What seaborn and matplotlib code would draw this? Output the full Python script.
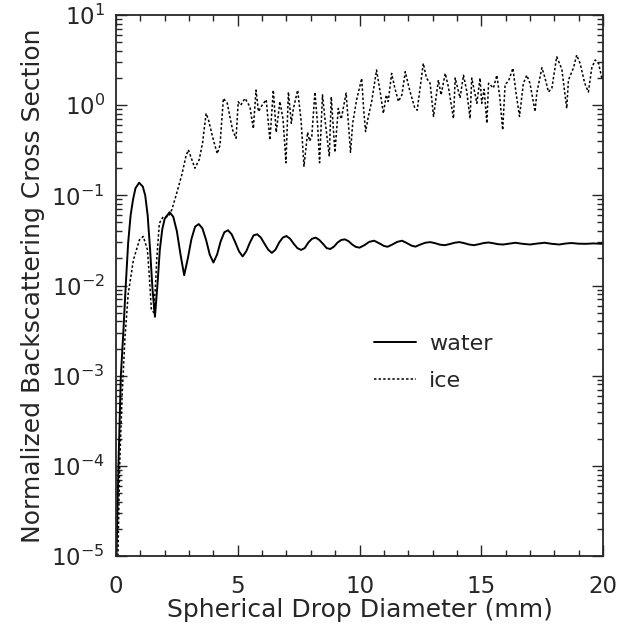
import matplotlib
matplotlib.use('Agg')
import matplotlib.pyplot as plt
import numpy as np
import pandas as pd
import seaborn as sns
from matplotlib.ticker import LogLocator, MultipleLocator

# water: diameter (mm) and normalized backscattering cross section
water_d = [0.02, 0.1, 0.2, 0.3, 0.4, 0.5, 0.6, 0.7, 0.8, 0.95, 1.1, 1.2, 1.3, 1.4, 1.5, 1.6,
           1.7, 1.8, 1.9, 2.0, 2.2, 2.35, 2.5, 2.65, 2.8, 2.95, 3.1, 3.25, 3.4, 3.55, 3.7,
           3.85, 4.0, 4.15, 4.3, 4.45, 4.6, 4.75, 4.9, 5.05, 5.2, 5.35, 5.5, 5.65, 5.8,
           5.95, 6.1, 6.25, 6.4, 6.55, 6.7, 6.85, 7.0, 7.15, 7.3, 7.45, 7.6, 7.75, 7.9,
           8.05, 8.2, 8.35, 8.5, 8.65, 8.8, 8.95, 9.1, 9.25, 9.4, 9.55, 9.7, 9.85, 10.0,
           10.2, 10.4, 10.6, 10.8, 11.0, 11.15, 11.35, 11.55, 11.75, 11.95, 12.15, 12.3,
           12.5, 12.7, 12.9, 13.1, 13.3, 13.5, 13.7, 13.9, 14.1, 14.3, 14.5, 14.7, 14.9,
           15.1, 15.3, 15.5, 15.7, 15.9, 16.1, 16.4, 16.7, 17.0, 17.3, 17.6, 17.9, 18.2,
           18.45, 18.7, 19.0, 19.3, 19.6, 20.0]
water_s = [1e-5, 1e-4, 1e-3, 3e-3, 0.01, 0.03, 0.06, 0.09, 0.12, 0.138, 0.125, 0.1, 0.06,
           0.025, 0.009, 0.0045, 0.01, 0.025, 0.042, 0.055, 0.065, 0.058, 0.04, 0.022, 0.013,
           0.02, 0.033, 0.045, 0.048, 0.043, 0.032, 0.022, 0.018, 0.022, 0.031, 0.039, 0.041,
           0.037, 0.03, 0.024, 0.021, 0.024, 0.03, 0.036, 0.037, 0.034, 0.029, 0.025, 0.023,
           0.025, 0.03, 0.034, 0.0354, 0.033, 0.029, 0.026, 0.0248, 0.026, 0.03, 0.033, 0.034,
           0.032, 0.029, 0.026, 0.0254, 0.027, 0.03, 0.032, 0.0325, 0.031, 0.0285, 0.0268,
           0.0263, 0.028, 0.0305, 0.0314, 0.0295, 0.0275, 0.0269, 0.0285, 0.0305, 0.0314,
           0.0295, 0.0276, 0.027, 0.0285, 0.0298, 0.0303, 0.0295, 0.0284, 0.028, 0.0288,
           0.0298, 0.0303, 0.0295, 0.0285, 0.028, 0.0287, 0.0296, 0.030, 0.0294, 0.0287,
           0.0285, 0.029, 0.0298, 0.029, 0.0285, 0.0292, 0.0298, 0.029, 0.0285, 0.0292,
           0.0296, 0.0291, 0.029, 0.0293, 0.029]

# ice
ice_d = [0.08, 0.15, 0.25, 0.37, 0.5, 0.71, 0.96, 1.12, 1.29, 1.37, 1.45, 1.55, 1.62, 1.67,
         1.78, 1.94, 2.15, 2.29, 2.49, 2.7, 2.87, 2.97, 3.11, 3.24, 3.42, 3.56, 3.7, 3.79,
         4.0, 4.16, 4.27, 4.41, 4.57, 4.68, 4.79, 4.93, 5.02, 5.12, 5.3, 5.5, 5.64, 5.75,
         5.85, 6.0, 6.17, 6.32, 6.46, 6.58, 6.73, 6.86, 6.98, 7.08, 7.2, 7.28, 7.46, 7.6,
         7.72, 7.87, 7.95, 8.04, 8.17, 8.28, 8.36, 8.48, 8.6, 8.76, 8.84, 8.99, 9.13, 9.25,
         9.45, 9.55, 9.63, 9.72, 9.88, 10.09, 10.17, 10.25, 10.36, 10.5, 10.7, 10.85, 10.98,
         11.1, 11.18, 11.32, 11.45, 11.6, 11.74, 11.88, 12.05, 12.26, 12.37, 12.62, 12.75,
         12.9, 13.04, 13.24, 13.35, 13.52, 13.65, 13.86, 13.93, 14.13, 14.27, 14.4, 14.54,
         14.61, 14.82, 14.95, 15.02, 15.12, 15.23, 15.3, 15.5, 15.64, 15.76, 15.88, 15.98,
         16.12, 16.3, 16.43, 16.57, 16.73, 16.87, 17.0, 17.21, 17.28, 17.49, 17.62, 17.76,
         17.9, 18.1, 18.31, 18.51, 18.58, 18.79, 18.92, 19.06, 19.25, 19.4, 19.54, 19.68,
         19.82, 19.95]
ice_s = [1e-5, 1e-4, 6e-4, 0.0027, 0.008, 0.019, 0.032, 0.035, 0.025, 0.0126, 0.0055, 0.005,
         0.01, 0.019, 0.049, 0.058, 0.058, 0.069, 0.105, 0.168, 0.27, 0.32, 0.25, 0.2, 0.25,
         0.39, 0.81, 0.7, 0.41, 0.29, 0.36, 1.19, 1.05, 0.74, 0.53, 0.43, 1.09, 1.0, 1.19,
         0.96, 0.55, 1.47, 0.85, 1.0, 1.15, 0.41, 1.47, 0.5, 1.1, 0.7, 0.23, 1.4, 0.63, 0.9,
         1.47, 0.68, 0.21, 0.5, 0.4, 0.45, 1.4, 0.6, 0.23, 1.3, 0.63, 0.27, 1.24, 0.3, 0.92,
         0.7, 1.36, 0.6, 0.3, 0.63, 1.14, 1.98, 0.9, 0.51, 0.74, 1.1, 2.45, 1.4, 0.81, 1.3,
         1.1, 2.25, 1.55, 1.1, 1.3, 2.35, 1.5, 0.95, 0.88, 2.91, 2.0, 1.75, 0.75, 1.9, 1.3,
         2.25, 1.6, 0.71, 2.0, 1.2, 2.15, 1.45, 0.71, 2.0, 1.05, 2.0, 1.05, 1.5, 0.63, 1.75,
         1.55, 2.15, 1.24, 0.53, 1.7, 1.85, 2.57, 1.36, 0.75, 1.75, 2.15, 1.75, 0.85, 1.36,
         2.6, 2.0, 1.4, 1.55, 3.45, 2.5, 0.92, 1.9, 2.6, 3.6, 2.9, 1.75, 1.4, 2.6, 3.17,
         2.9, 2.0]

y_decades = [1e-5, 1e-4, 1e-3, 1e-2, 1e-1, 1e0, 1e1]

water = pd.DataFrame({'d': water_d, 's': water_s})
ice = pd.DataFrame({'d': ice_d, 's': ice_s})

sns.set_style('ticks')
plt.rcParams['font.family'] = ['DejaVu Sans']

fig = plt.figure(figsize=(6.25, 6.28), dpi=100)
ax = fig.add_axes([0.1856, 0.1146, 0.7792, 0.8615])

sns.lineplot(data=water, x='d', y='s', color='black', linewidth=1.4, label='water', ax=ax)
sns.lineplot(data=ice, x='d', y='s', color='black', linewidth=1.1, label='ice', ax=ax)
ax.lines[1].set_dashes([1.6, 1.4])

ax.set_yscale('log')
ax.set_xlim(0, 20)
ax.set_ylim(1e-5, 10)
ax.xaxis.set_major_locator(MultipleLocator(5))
ax.xaxis.set_minor_locator(MultipleLocator(1))
ax.set_yticks(y_decades)
ax.yaxis.set_minor_locator(LogLocator(base=10, subs=np.arange(2, 10), numticks=20))
ax.set_ylim(1e-5, 10)

ax.tick_params(which='both', direction='in', top=True, right=True, width=1, labelsize=16.5)
ax.tick_params(which='major', length=8)
ax.tick_params(which='minor', length=4)
ax.tick_params(axis='x', which='major', pad=14)
ax.tick_params(axis='y', which='major', pad=8)
for sp in ax.spines.values():
    sp.set_linewidth(1.3)

ax.set_xlabel('Spherical Drop Diameter (mm)', fontsize=18, labelpad=0)
ax.set_ylabel('Normalized Backscattering Cross Section', fontsize=18, labelpad=4)

ax.legend(loc='upper left', bbox_to_anchor=(0.488, 0.447), frameon=False, fontsize=16,
          handlelength=1.9, handletextpad=0.6, labelspacing=0.75)

fig.savefig('out.png', dpi=100)
